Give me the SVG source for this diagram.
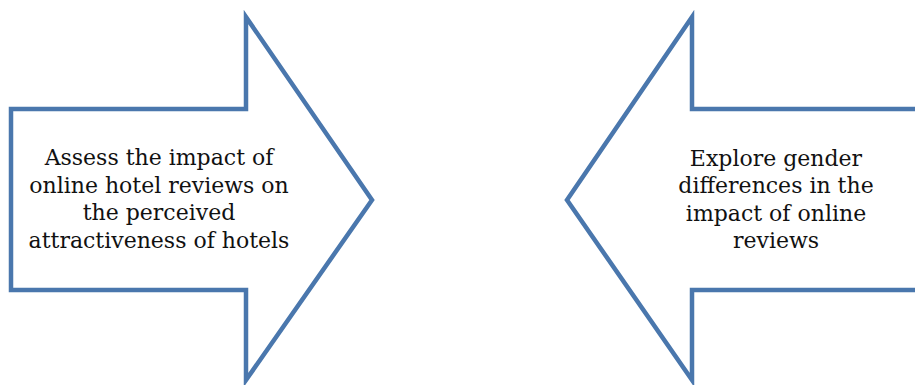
<svg xmlns="http://www.w3.org/2000/svg" width="915" height="385" viewBox="0 0 915 385">
<style>
.arrow{fill:#ffffff;stroke:#4a77ad;stroke-width:4.5;stroke-linejoin:miter;stroke-miterlimit:10}
.lbl{font-family:"DejaVu Serif","Liberation Serif",serif;font-size:22px;fill:#111111;text-anchor:middle}
</style>
<rect width="915" height="385" fill="#ffffff"/>
<g id="node-left">
<polygon class="arrow" points="11,109 246,109 246,17 372,200 246,380 246,290 11,290"/>
<text class="lbl" x="159" y="165">Assess the impact of</text>
<text class="lbl" x="159" y="193">online hotel reviews on</text>
<text class="lbl" x="159" y="220">the perceived</text>
<text class="lbl" x="159" y="248">attractiveness of hotels</text>
</g>
<g id="node-right">
<polygon class="arrow" points="925,109 692,109 692,17 567,200 692,380 692,290 925,290"/>
<text class="lbl" x="776" y="166">Explore gender</text>
<text class="lbl" x="776" y="193">differences in the</text>
<text class="lbl" x="776" y="221">impact of online</text>
<text class="lbl" x="776" y="248">reviews</text>
</g>
<g id="connectors"></g>
</svg>
